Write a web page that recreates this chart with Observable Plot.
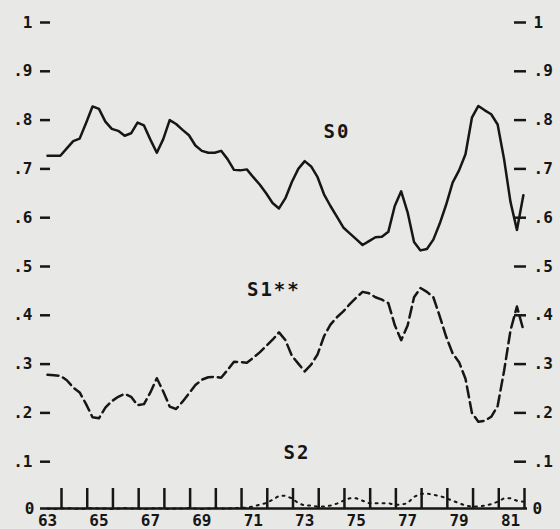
<!DOCTYPE html>
<html><head><meta charset="utf-8">
<script src="https://cdn.jsdelivr.net/npm/d3@7"></script>
<script src="https://cdn.jsdelivr.net/npm/@observablehq/plot@0.6"></script>
<style>
html,body{margin:0;padding:0;background:#e8e8e6;}
#chart svg{display:block;}
g[aria-label="text"] text{letter-spacing:2px;}
</style></head><body><div id="chart"></div>
<script>
// Quarterly series, first point = 1963 Q1
const startYear = 63;
const s0 = [.727,.727,.727,.742,.757,.762,.794,.828,.823,.797,.782,.778,.768,.773,.795,.789,
  .760,.733,.761,.800,.792,.780,.769,.748,.737,.733,.733,.737,.720,.698,.697,.699,
  .683,.668,.650,.630,.619,.640,.673,.700,.716,.705,.683,.648,.624,.602,.580,.568,
  .556,.544,.552,.560,.561,.571,.624,.654,.611,.550,.533,.536,.555,.588,.627,.672,
  .697,.730,.805,.829,.820,.812,.791,.720,.632,.575,.646];
const s1 = [.278,.277,.276,.267,.252,.242,.218,.191,.189,.211,.224,.233,.239,.233,.216,.218,
  .242,.271,.244,.213,.208,.223,.240,.257,.268,.273,.274,.272,.288,.305,.304,.303,
  .313,.324,.337,.350,.365,.349,.317,.301,.285,.299,.320,.357,.381,.396,.408,.423,
  .436,.448,.445,.437,.432,.425,.380,.349,.379,.437,.456,.448,.437,.398,.356,.322,
  .304,.270,.200,.182,.184,.192,.214,.286,.369,.418,.370];
const s2 = [.004,.003,.004,.005,.004,.003,.004,.005,.004,.004,.003,.004,.005,.004,.004,.003,
  .004,.005,.004,.003,.004,.004,.005,.004,.003,.004,.005,.004,.004,.005,.005,.006,
  .008,.012,.015,.022,.030,.030,.025,.015,.010,.010,.008,.008,.010,.014,.020,.025,
  .025,.020,.015,.015,.015,.015,.012,.012,.015,.028,.034,.035,.032,.030,.025,.020,
  .015,.010,.008,.008,.010,.013,.018,.025,.025,.020,.018];
const seriesNames = ["S0", "S1**", "S2"];
const seriesLabelX = [74.25, 71.8, 72.7];
const seriesLabelY = [0.776, 0.452, 0.117];
const yTicks = [0.1, 0.2, 0.3, 0.4, 0.5, 0.6, 0.7, 0.8, 0.9, 1];
const yTickLabels = [".1", ".2", ".3", ".4", ".5", ".6", ".7", ".8", ".9", "1"];
const zeroLabel = "0";
const xLabelYears = [63, 65, 67, 69, 71, 73, 75, 77, 79, 81];
const xTickYears = [63, 64, 65, 66, 67, 68, 69, 70, 71, 72, 73, 74, 75, 76, 77, 78, 79, 80, 81];

const rows = [];
[s0, s1, s2].forEach((arr, k) => arr.forEach((v, i) => rows.push({series: seriesNames[k], t: startYear + i / 4, v})));
const ink = "#161616";

const chart = Plot.plot({
  width: 560,
  height: 529,
  marginLeft: 47,
  marginRight: 50,
  marginTop: 22,
  marginBottom: 19,
  style: {background: "#e8e8e6", fontFamily: "'DejaVu Sans Mono', monospace", fontSize: "16px", fontWeight: "bold", color: ink},
  x: {domain: [63, 81]},
  y: {domain: [0, 1]},
  marks: [
    Plot.ruleY([0], {dy: -2, insetLeft: -7, insetRight: -17, stroke: ink, strokeWidth: 2.5}),
    Plot.ruleX(xTickYears, {x: d => d, y1: 0, y2: 0, insetTop: -20, dx: 14, dy: -2, stroke: ink, strokeWidth: 2.5}),
    Plot.line(rows.filter(d => d.series === "S0"), {x: "t", y: "v", stroke: ink, strokeWidth: 2.5, strokeLinejoin: "round"}),
    Plot.line(rows.filter(d => d.series === "S1**"), {x: "t", y: "v", stroke: ink, strokeWidth: 2.5, strokeDasharray: "11,5", strokeLinejoin: "round"}),
    Plot.line(rows.filter(d => d.series === "S2"), {x: "t", y: "v", stroke: ink, strokeWidth: 2, strokeDasharray: "2,5"}),
    Plot.axisY(yTicks, {anchor: "left", label: null, tickSize: 10, tickPadding: 8, dx: 3, strokeWidth: 2.5, tickFormat: d => yTickLabels[yTicks.indexOf(d)]}),
    Plot.axisY([0], {anchor: "left", label: null, tickSize: 0, tickPadding: 16, dx: 3, dy: -2, tickFormat: () => zeroLabel}),
    Plot.axisY(yTicks, {anchor: "right", label: null, tickSize: 12, tickPadding: 8, dx: 3, strokeWidth: 2.5, tickFormat: d => yTickLabels[yTicks.indexOf(d)]}),
    Plot.axisY([0], {anchor: "right", label: null, tickSize: 0, tickPadding: 22, dy: -2, tickFormat: () => zeroLabel}),
    Plot.axisX(xLabelYears, {anchor: "bottom", label: null, tickSize: 0, tickPadding: 4, tickFormat: d => String(d)}),
    Plot.text(seriesNames, {x: (d, i) => seriesLabelX[i], y: (d, i) => seriesLabelY[i], text: d => d, fontSize: 19, fontWeight: "bold", fill: ink})
  ]
});
document.getElementById("chart").appendChild(chart);
</script>
</body></html>
